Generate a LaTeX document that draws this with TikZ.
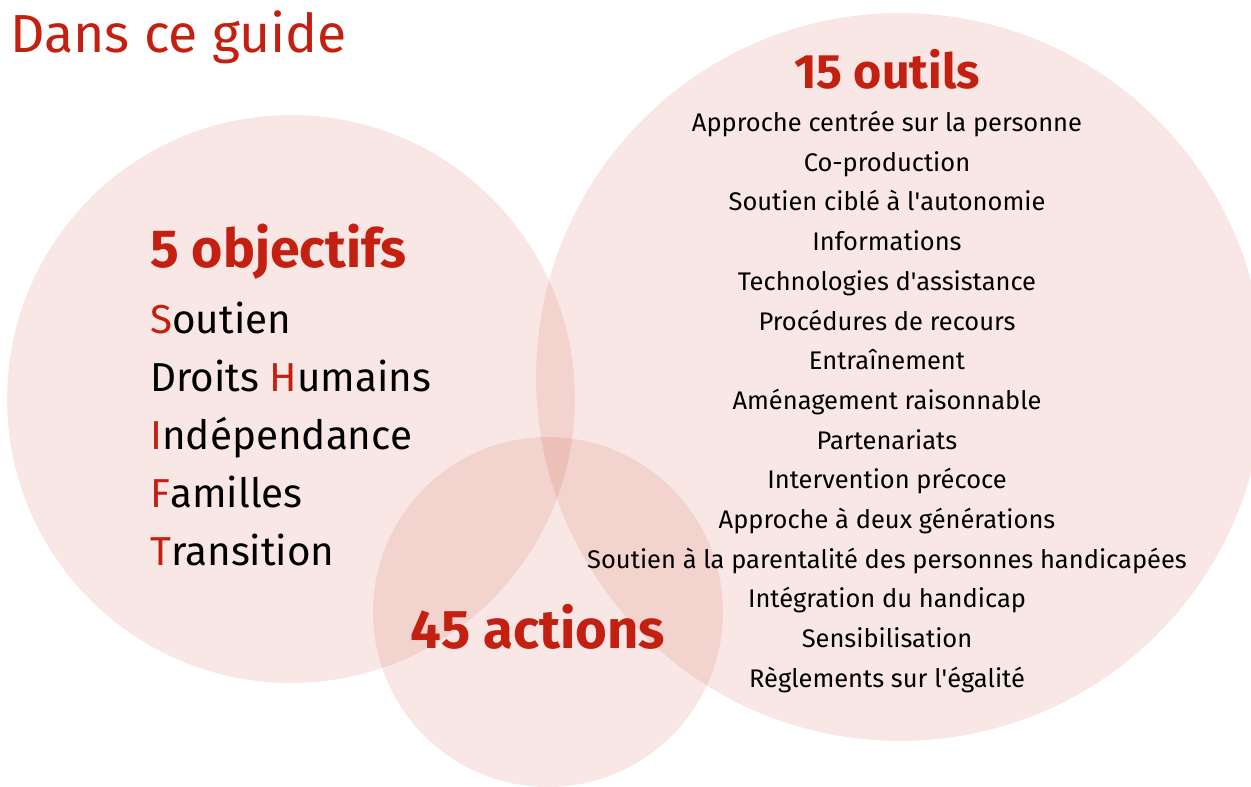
\documentclass[tikz,border=0pt]{standalone}
\usepackage{fontspec}
\setmainfont{Fira Sans}
\usetikzlibrary{positioning}

\definecolor{guidered}{RGB}{196,32,18}
\definecolor{discred}{RGB}{200,60,40}

\begin{document}
\begin{tikzpicture}[x=0.02cm,y=-0.02cm,node distance=0.794cm,
  disc/.style={fill=discred,fill opacity=0.12},
  heading/.style={text=guidered,inner sep=0pt,font=\bfseries\fontsize{28}{32}\selectfont},
  goal/.style={anchor=west,inner sep=0pt,text height=1.6ex,text depth=.4ex,font=\fontsize{23}{27}\selectfont},
  tool/.style={inner sep=0pt,text height=1.6ex,text depth=.4ex,font=\fontsize{14.5}{17}\selectfont}]

\useasboundingbox (0,0) rectangle (1251,787);

% the three circles
\fill[disc] (291,399) circle (5.68cm);
\fill[disc] (900,377) circle (7.28cm);
\fill[disc] (548,612) circle (3.50cm);

\node[anchor=west,inner sep=0pt,text=guidered,font=\fontsize{30.5}{35}\selectfont] (title) at (10,37) {Dans ce guide};

% objectifs
\node[heading,anchor=west,font=\bfseries\fontsize{30.5}{35}\selectfont] (obj) at (150,252) {5 objectifs};
\node[goal] (o1) at (150,328) {\textcolor{guidered}{S}outien};
\node[goal] (o2) at (150,386) {Droits \textcolor{guidered}{H}umains};
\node[goal] (o3) at (150,444) {\textcolor{guidered}{I}ndépendance};
\node[goal] (o4) at (150,502) {\textcolor{guidered}{F}amilles};
\node[goal] (o5) at (150,560) {\textcolor{guidered}{T}ransition};

% actions
\node[heading,font=\bfseries\fontsize{31}{35}\selectfont] (act) at (538,627) {45 actions};

% outils
\node[heading,font=\bfseries\fontsize{27.5}{32}\selectfont] (out) at (887,69) {15 outils};
\node[tool] (t1) at (887,126) {Approche centrée sur la personne};
\node[tool] (t2) [below of=t1] {Co-production};
\node[tool] (t3) [below of=t2] {Soutien ciblé à l\textquotesingle autonomie};
\node[tool] (t4) [below of=t3] {Informations};
\node[tool] (t5) [below of=t4] {Technologies d\textquotesingle assistance};
\node[tool] (t6) [below of=t5] {Procédures de recours};
\node[tool] (t7) [below of=t6] {Entraînement};
\node[tool] (t8) [below of=t7] {Aménagement raisonnable};
\node[tool] (t9) [below of=t8] {Partenariats};
\node[tool] (t10) [below of=t9] {Intervention précoce};
\node[tool] (t11) [below of=t10] {Approche à deux générations};
\node[tool] (t12) [below of=t11] {Soutien à la parentalité des personnes handicapées};
\node[tool] (t13) [below of=t12] {Intégration du handicap};
\node[tool] (t14) [below of=t13] {Sensibilisation};
\node[tool] (t15) [below of=t14] {Règlements sur l\textquotesingle égalité};

\end{tikzpicture}
\end{document}
